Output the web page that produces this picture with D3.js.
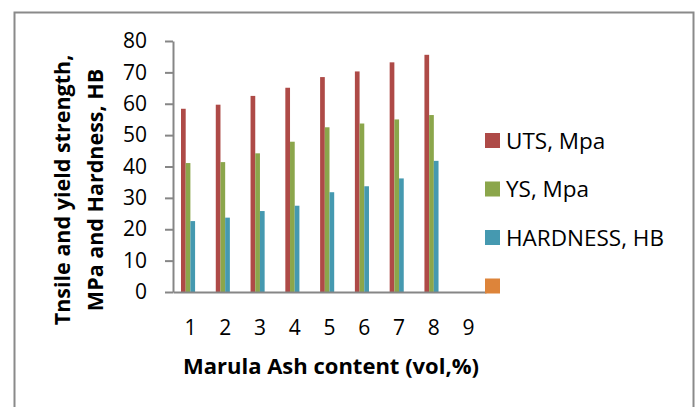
<!DOCTYPE html>
<html>
<head>
<meta charset="utf-8">
<script src="https://cdn.jsdelivr.net/npm/d3@7"></script>
<style>
  html, body { margin: 0; padding: 0; background: #fff; }
  svg { display: block; }
  text { font-family: "Open Sans", Lato, sans-serif; fill: #000; }
</style>
</head>
<body>
<svg id="chart" width="697" height="407"></svg>
<script>
const categories = ["1", "2", "3", "4", "5", "6", "7", "8", "9"];
const seriesNames = ["UTS, Mpa", "YS, Mpa", "HARDNESS, HB", ""];
const utsValues = [58.4, 59.7, 62.5, 65.1, 68.5, 70.3, 73.2, 75.6, null];
const ysValues = [41.1, 41.4, 44.2, 47.9, 52.5, 53.7, 55.0, 56.4, null];
const hardnessValues = [22.6, 23.7, 25.8, 27.5, 31.8, 33.7, 36.2, 41.8, null];
const emptyValues = [null, null, null, null, null, null, null, null, null];
const yTicks = [0, 10, 20, 30, 40, 50, 60, 70, 80];
const colors = ["#AE4A47", "#8BA64B", "#4599B0", "#DD843A"];
const yTitleLines = ["Tnsile and yield strength,", "MPa and Hardness, HB"];
const xTitle = "Marula Ash content (vol,%)";

const seriesValues = [utsValues, ysValues, hardnessValues, emptyValues];
const FONT = "'Open Sans', Lato, sans-serif";

const svg = d3.select("#chart");

// outer frame
svg.append("rect")
  .attr("x", 14.5).attr("y", 12.5)
  .attr("width", 679).attr("height", 420)
  .attr("fill", "none").attr("stroke", "#8a8a8a").attr("stroke-width", 2);

const y = d3.scaleLinear().domain([0, 80]).range([292, 41]);
const x = d3.scaleBand().domain(categories).range([173, 486])
  .paddingInner(0.46).paddingOuter(0.23);
const xs = d3.scaleBand().domain(d3.range(seriesNames.length)).range([0, x.bandwidth()]);

// bars
const groups = svg.append("g").selectAll("g")
  .data(categories)
  .join("g")
  .attr("transform", d => `translate(${x(d)},0)`);

groups.selectAll("rect")
  .data((c, i) => seriesValues.map((vals, s) => ({ s, v: vals[i] })).filter(d => d.v != null))
  .join("rect")
  .attr("x", d => xs(d.s))
  .attr("width", xs.bandwidth())
  .attr("y", d => y(d.v))
  .attr("height", d => y(0) - y(d.v))
  .attr("fill", d => colors[d.s]);

// y axis
const yAxis = svg.append("g")
  .attr("transform", "translate(173,0)")
  .call(d3.axisLeft(y).tickValues(yTicks).tickSize(8).tickSizeOuter(0).tickPadding(18));
yAxis.select(".domain").attr("stroke", "#868686").attr("stroke-width", 2);
yAxis.selectAll(".tick line").attr("stroke", "#868686").attr("stroke-width", 2);
yAxis.selectAll(".tick text").attr("font-size", 21).attr("font-family", FONT).attr("fill", "#000");

// x axis
const xAxis = svg.append("g")
  .attr("transform", "translate(0,292)")
  .call(d3.axisBottom(x).tickSize(0).tickSizeOuter(0).tickPadding(43));
xAxis.select(".domain").attr("stroke", "#868686").attr("stroke-width", 2);
xAxis.selectAll(".tick text").attr("font-size", 21).attr("font-family", FONT).attr("fill", "#000").attr("dy", "0");

// axis titles
svg.append("text")
  .attr("x", 331).attr("y", 374)
  .attr("text-anchor", "middle")
  .attr("font-size", 22).attr("font-weight", "bold")
  .text(xTitle);

const yTitle = svg.append("g");
yTitleLines.forEach((line, i) => {
  yTitle.append("text")
    .attr("transform", `translate(${70 + i * 33},190) rotate(-90)`)
    .attr("text-anchor", "middle")
    .attr("font-size", 21.5).attr("font-weight", "bold")
    .text(line);
});

// legend
const legend = svg.append("g").selectAll("g")
  .data(seriesNames)
  .join("g")
  .attr("transform", (d, i) => `translate(485,${133 + i * 48.5})`);
legend.append("rect")
  .attr("width", 15).attr("height", 15)
  .attr("fill", (d, i) => colors[i]);
legend.append("text")
  .attr("x", 21).attr("y", 15.5)
  .attr("font-size", 22.5)
  .text(d => d);
</script>
</body>
</html>
